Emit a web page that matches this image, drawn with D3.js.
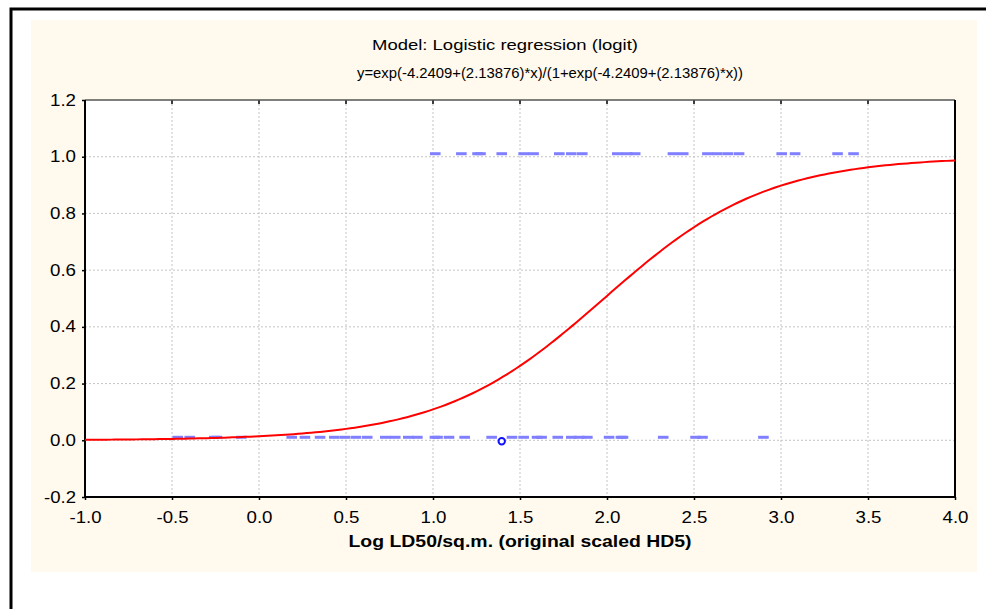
<!DOCTYPE html>
<html>
<head>
<meta charset="utf-8">
<script src="https://cdn.jsdelivr.net/npm/d3@7/dist/d3.min.js"></script>
<style>
  body { margin: 0; background: #fff; }
  svg { display: block; font-family: "Liberation Sans", Arial, sans-serif; }
</style>
</head>
<body>
<div id="chart"></div>
<script>
// tick values
var xTicks = [-1.0, -0.5, 0.0, 0.5, 1.0, 1.5, 2.0, 2.5, 3.0, 3.5, 4.0];
var yTicks = [-0.2, 0.0, 0.2, 0.4, 0.6, 0.8, 1.0, 1.2];

// observed x values with response = 1
var onesX = [1.013, 1.163, 1.256, 1.273, 1.395, 1.521, 1.578, 1.726, 1.795, 1.858,
             2.059, 2.116, 2.162, 2.379, 2.438, 2.577, 2.634, 2.695, 2.759,
             3.004, 3.081, 3.325, 3.417];
// observed x values with response = 0
var zerosX = [-0.467, -0.398, -0.257, -0.242, -0.102, 0.188, 0.264, 0.351,
              0.433, 0.494, 0.557, 0.622, 0.726, 0.783, 0.858, 0.910,
              1.011, 1.026, 1.092, 1.182, 1.337, 1.454, 1.521, 1.598, 1.624,
              1.717, 1.795, 1.841, 1.887, 2.012, 2.080, 2.092, 2.323,
              2.509, 2.549, 2.899];
// single highlighted case
var markedX = [1.395];
var markedY = [0];

// model coefficients from the title
var intercept = -4.2409, slope = 2.13876;

var width = 986, height = 609;
var margin = {top: 100, right: 31, bottom: 112, left: 85};

var svg = d3.select("#chart").append("svg")
    .attr("width", width)
    .attr("height", height);

// outer frame (clipped on right and bottom)
svg.append("rect")
    .attr("x", 11).attr("y", 9)
    .attr("width", 1100).attr("height", 800)
    .attr("fill", "#fff")
    .attr("stroke", "#000").attr("stroke-width", 3);

// cream panel
svg.append("rect")
    .attr("x", 31).attr("y", 20)
    .attr("width", 946).attr("height", 552)
    .attr("fill", "#fff9ee");

var x = d3.scaleLinear().domain([-1, 4]).range([margin.left, width - margin.right]);
var y = d3.scaleLinear().domain([-0.2, 1.2]).range([height - margin.bottom, margin.top]);

// plot background
svg.append("rect")
    .attr("x", x(-1)).attr("y", y(1.2))
    .attr("width", x(4) - x(-1)).attr("height", y(-0.2) - y(1.2))
    .attr("fill", "#fff");

// grid
svg.append("g").selectAll("line")
    .data(xTicks.slice(1, -1))
    .enter().append("line")
    .attr("x1", d => x(d)).attr("x2", d => x(d))
    .attr("y1", y(1.2)).attr("y2", y(-0.2))
    .attr("stroke", "#c4c4c4").attr("stroke-dasharray", "2,2");

svg.append("g").selectAll("line")
    .data(yTicks.slice(1, -1))
    .enter().append("line")
    .attr("x1", x(-1)).attr("x2", x(4))
    .attr("y1", d => y(d)).attr("y2", d => y(d))
    .attr("stroke", "#c4c4c4").attr("stroke-dasharray", "2,2");

// axes
var fmt = d => d.toFixed(1);

var xAxis = svg.append("g")
    .attr("transform", "translate(0," + y(-0.2) + ")")
    .call(d3.axisBottom(x).tickValues(xTicks).tickFormat(fmt).tickSize(3).tickPadding(12));
var yAxis = svg.append("g")
    .attr("transform", "translate(" + x(-1) + ",0)")
    .call(d3.axisLeft(y).tickValues(yTicks).tickFormat(fmt).tickSize(3).tickPadding(6));

[xAxis, yAxis].forEach(function (a) {
    a.select(".domain").remove();
    a.selectAll(".tick line").attr("stroke", "#000").attr("stroke-width", 1.5);
    a.selectAll(".tick text")
        .attr("fill", "#000")
        .attr("textLength", d => d < 0 ? 32 : 26)
        .attr("lengthAdjust", "spacingAndGlyphs")
        .style("font-size", "16px")
        .style("font-family", "'Liberation Sans', Arial, sans-serif");
});

// inner ticks at the top edge
svg.append("g").selectAll("line")
    .data(xTicks.slice(1, -1))
    .enter().append("line")
    .attr("x1", d => x(d)).attr("x2", d => x(d))
    .attr("y1", y(1.2)).attr("y2", y(1.2) + 4)
    .attr("stroke", "#000").attr("stroke-width", 1.5);

// plot border
svg.append("line")
    .attr("x1", x(-1)).attr("x2", x(4)).attr("y1", y(1.2)).attr("y2", y(1.2))
    .attr("stroke", "#555").attr("stroke-width", 1.5);
svg.append("line")
    .attr("x1", x(4)).attr("x2", x(4)).attr("y1", y(1.2)).attr("y2", y(-0.2))
    .attr("stroke", "#000").attr("stroke-width", 2);
svg.append("line")
    .attr("x1", x(-1)).attr("x2", x(-1)).attr("y1", y(1.2)).attr("y2", y(-0.2))
    .attr("stroke", "#000").attr("stroke-width", 2);
svg.append("line")
    .attr("x1", x(-1)).attr("x2", x(4)).attr("y1", y(-0.2)).attr("y2", y(-0.2))
    .attr("stroke", "#000").attr("stroke-width", 2);

// observations drawn as short dashes
function drawDashes(xs, val) {
    svg.append("g").selectAll("line")
        .data(xs)
        .enter().append("line")
        .attr("x1", d => x(d) - 5.3)
        .attr("x2", d => x(d) + 5.3)
        .attr("y1", y(val) - 3)
        .attr("y2", y(val) - 3)
        .attr("stroke", "#7f7fff")
        .attr("stroke-width", 3);
}
drawDashes(onesX, 1);
drawDashes(zerosX, 0);

// fitted logistic curve
var logit = function (v) {
    var e = Math.exp(intercept + slope * v);
    return e / (1 + e);
};
var curveData = d3.range(0, 201).map(i => -1 + i * 5 / 200);
svg.append("path")
    .datum(curveData)
    .attr("fill", "none")
    .attr("stroke", "#ff0000")
    .attr("stroke-width", 2)
    .attr("d", d3.line().x(d => x(d)).y(d => y(logit(d))));

// highlighted case
svg.append("g").selectAll("circle")
    .data(markedX)
    .enter().append("circle")
    .attr("cx", d => x(d))
    .attr("cy", (d, i) => y(markedY[i]) + 1)
    .attr("r", 3.2)
    .attr("fill", "#fff")
    .attr("stroke", "#1010ff")
    .attr("stroke-width", 2);

// titles
svg.append("text")
    .attr("x", 505).attr("y", 50)
    .attr("text-anchor", "middle")
    .attr("textLength", 266).attr("lengthAdjust", "spacingAndGlyphs")
    .style("font-size", "15px")
    .text("Model: Logistic regression (logit)");

svg.append("text")
    .attr("x", 550).attr("y", 78)
    .attr("text-anchor", "middle")
    .attr("textLength", 386).attr("lengthAdjust", "spacingAndGlyphs")
    .style("font-size", "15px")
    .text("y=exp(-4.2409+(2.13876)*x)/(1+exp(-4.2409+(2.13876)*x))");

svg.append("text")
    .attr("x", 520).attr("y", 547)
    .attr("text-anchor", "middle")
    .attr("textLength", 343).attr("lengthAdjust", "spacingAndGlyphs")
    .style("font-size", "16px")
    .style("font-weight", "bold")
    .text("Log LD50/sq.m. (original scaled HD5)");
</script>
</body>
</html>
